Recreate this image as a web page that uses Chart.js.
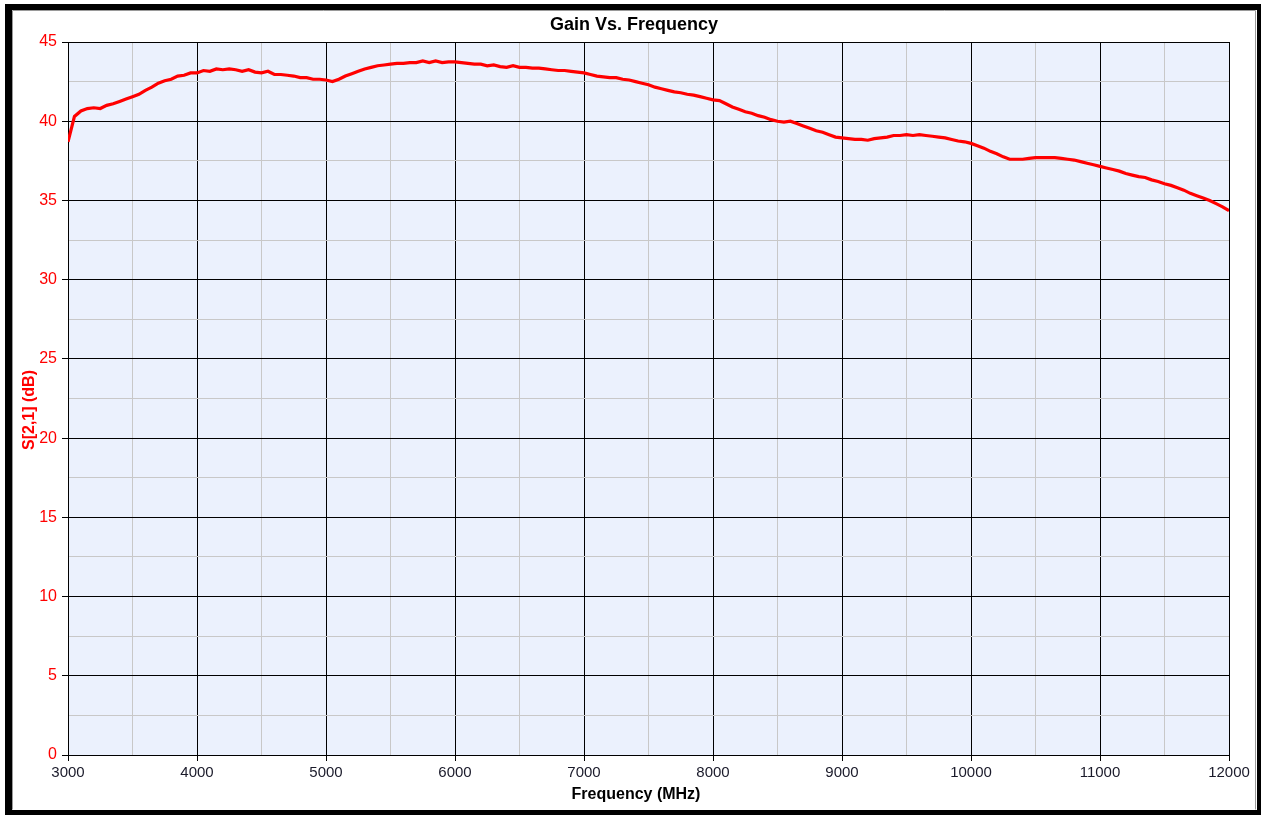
<!DOCTYPE html>
<html>
<head>
<meta charset="utf-8">
<script src="https://cdn.jsdelivr.net/npm/chart.js@4/dist/chart.umd.min.js"></script>
<style>
  html, body { margin: 0; padding: 0; background: #fff; }
  #wrap { width: 1261px; height: 815px; position: relative; }
</style>
</head>
<body>
<div id="wrap"><canvas id="c" width="1261" height="815"></canvas></div>
<script>
const chartTitle = "Gain Vs. Frequency";
const xAxisTitle = "Frequency (MHz)";
const yAxisTitle = "S[2,1] (dB)";

const freqMHz = [
  3000,3050,3100,3150,3200,3250,3300,3350,3400,3450,3500,3550,3600,3650,3700,3750,3800,3850,3900,3950,
  4000,4050,4100,4150,4200,4250,4300,4350,4400,4450,4500,4550,4600,4650,4700,4750,4800,4850,4900,4950,
  5000,5050,5100,5150,5200,5250,5300,5350,5400,5450,5500,5550,5600,5650,5700,5750,5800,5850,5900,5950,
  6000,6050,6100,6150,6200,6250,6300,6350,6400,6450,6500,6550,6600,6650,6700,6750,6800,6850,6900,6950,
  7000,7050,7100,7150,7200,7250,7300,7350,7400,7450,7500,7550,7600,7650,7700,7750,7800,7850,7900,7950,
  8000,8050,8100,8150,8200,8250,8300,8350,8400,8450,8500,8550,8600,8650,8700,8750,8800,8850,8900,8950,
  9000,9050,9100,9150,9200,9250,9300,9350,9400,9450,9500,9550,9600,9650,9700,9750,9800,9850,9900,9950,
  10000,10050,10100,10150,10200,10250,10300,10350,10400,10450,10500,10550,10600,10650,10700,10750,10800,10850,10900,10950,
  11000,11050,11100,11150,11200,11250,11300,11350,11400,11450,11500,11550,11600,11650,11700,11750,11800,11850,11900,11950,
  12000
];

const gainDb = [
  38.7,40.3,40.65,40.8,40.85,40.8,41.0,41.1,41.25,41.4,41.55,41.7,41.95,42.15,42.4,42.55,42.65,42.85,42.9,43.05,
  43.05,43.2,43.15,43.3,43.25,43.3,43.25,43.15,43.25,43.1,43.05,43.15,42.95,42.95,42.9,42.85,42.75,42.75,42.65,42.65,
  42.6,42.5,42.65,42.85,43.0,43.15,43.3,43.4,43.5,43.55,43.6,43.65,43.65,43.7,43.7,43.8,43.7,43.8,43.7,43.75,
  43.75,43.7,43.65,43.6,43.6,43.5,43.55,43.45,43.4,43.5,43.4,43.4,43.35,43.35,43.3,43.25,43.2,43.2,43.15,43.1,
  43.05,42.95,42.85,42.8,42.75,42.75,42.65,42.6,42.5,42.4,42.3,42.15,42.05,41.95,41.85,41.8,41.7,41.65,41.55,41.45,
  41.35,41.3,41.1,40.9,40.75,40.6,40.5,40.35,40.25,40.1,40.0,39.95,40.0,39.85,39.7,39.55,39.4,39.3,39.15,39.0,
  38.95,38.9,38.85,38.85,38.8,38.9,38.95,39.0,39.1,39.1,39.15,39.1,39.15,39.1,39.05,39.0,38.95,38.85,38.75,38.7,
  38.6,38.45,38.3,38.1,37.95,37.75,37.6,37.6,37.6,37.65,37.7,37.7,37.7,37.7,37.65,37.6,37.55,37.45,37.35,37.25,
  37.15,37.05,36.95,36.85,36.7,36.6,36.5,36.45,36.3,36.2,36.05,35.95,35.8,35.65,35.45,35.3,35.15,35.0,34.8,34.6,
  34.35
];

const xMin = 3000, xMax = 12000, xMajor = 1000, xMinor = 500;
const yMin = 0, yMax = 45, yMajor = 5, yMinor = 2.5;
const FONT = 'Liberation Sans, Arial, sans-serif';

const framePlugin = {
  id: 'frame',
  beforeDraw(chart) {
    const ctx = chart.ctx;
    ctx.save();
    ctx.fillStyle = '#ffffff';
    ctx.fillRect(0, 0, chart.width, chart.height);
    ctx.fillStyle = '#000000';
    ctx.fillRect(5, 4, chart.width - 5, chart.height - 4);
    ctx.fillStyle = '#ffffff';
    ctx.fillRect(12, 10, 1245, 800);
    ctx.strokeStyle = '#9a9a9a';
    ctx.lineWidth = 1;
    ctx.beginPath();
    ctx.moveTo(12.5, 809.5); ctx.lineTo(12.5, 10.5); ctx.lineTo(1255.5, 10.5); ctx.lineTo(1255.5, 809.5);
    ctx.stroke();
    const a = chart.chartArea;
    ctx.fillStyle = '#EBF1FD';
    ctx.fillRect(a.left, a.top, a.right - a.left, a.bottom - a.top);
    ctx.restore();
  },
  afterDraw(chart) {
    const ctx = chart.ctx;
    ctx.save();
    ctx.textAlign = 'center';
    ctx.textBaseline = 'middle';
    ctx.fillStyle = '#000000';
    ctx.font = 'bold 18px ' + FONT;
    ctx.fillText(chartTitle, 634, 25);
    ctx.font = 'bold 16px ' + FONT;
    ctx.fillText(xAxisTitle, 636, 795);
    ctx.translate(30, 410);
    ctx.rotate(-Math.PI / 2);
    ctx.fillStyle = '#FF0000';
    ctx.fillText(yAxisTitle, 0, 0);
    ctx.restore();
  }
};

new Chart(document.getElementById('c'), {
  type: 'line',
  data: {
    datasets: [{
      data: freqMHz.map((f, i) => ({ x: f, y: gainDb[i] })),
      borderColor: '#FF0000',
      borderWidth: 3.2,
      pointRadius: 0,
      tension: 0,
      fill: false
    }]
  },
  options: {
    responsive: false,
    animation: false,
    devicePixelRatio: 1,
    layout: { padding: { left: 12, right: 32, top: 42, bottom: 10 } },
    plugins: {
      legend: { display: false },
      tooltip: { enabled: false },
      title: { display: false }
    },
    scales: {
      x: {
        type: 'linear',
        min: xMin, max: xMax,
        ticks: {
          stepSize: xMinor,
          autoSkip: false,
          maxRotation: 0,
          color: '#1a1a2a',
          padding: 3,
          font: { family: FONT, size: 15 },
          callback: v => (v % xMajor === 0 ? String(v) : '')
        },
        grid: {
          color: c => (c.tick && c.tick.value % xMajor === 0 ? '#000000' : '#c8c8c8'),
          tickColor: c => (c.tick && c.tick.value % xMajor === 0 ? '#000000' : 'rgba(0,0,0,0)'),
          tickLength: 6,
          lineWidth: 1
        },
        border: { color: '#000000', width: 1 },
        title: { display: false },
        afterFit: s => { s.height = 50; }
      },
      y: {
        type: 'linear',
        min: yMin, max: yMax,
        ticks: {
          stepSize: yMinor,
          autoSkip: false,
          color: '#FF0000',
          padding: 5,
          font: { family: FONT, size: 16 },
          callback: v => (v % yMajor === 0 ? String(v) : '')
        },
        grid: {
          color: c => (c.tick && c.tick.value % yMajor === 0 ? '#000000' : '#c8c8c8'),
          tickColor: c => (c.tick && c.tick.value % yMajor === 0 ? '#000000' : 'rgba(0,0,0,0)'),
          tickLength: 6,
          lineWidth: 1
        },
        border: { color: '#000000', width: 1 },
        title: { display: false },
        afterFit: s => { s.width = 56; }
      }
    }
  },
  plugins: [framePlugin]
});
</script>
</body>
</html>
